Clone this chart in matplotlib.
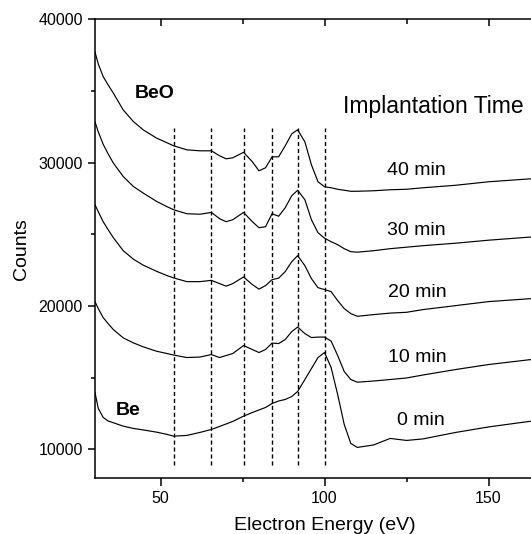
import numpy as np
import matplotlib
matplotlib.use("Agg")
import matplotlib.pyplot as plt
from matplotlib.ticker import MultipleLocator

plt.rcParams['font.family'] = ['Liberation Sans', 'DejaVu Sans']

# electron energy (eV), common grid
energy = [30, 31, 32.5, 34, 35.6, 38.6, 41.7, 44.7, 48.8, 52, 54, 58, 62, 65.5,
          68, 70, 72, 75.3, 78, 80, 82, 84, 86, 88, 90, 91.8, 94, 96, 98, 100,
          102, 104, 106, 108, 110, 115, 120, 125, 130, 140, 150, 163]

counts_40 = [37735, 36898, 36013, 35434, 34856, 33692, 32877, 32298, 31720, 31392,
             31183, 30904, 30834, 30834, 30486, 30277, 30346, 30730, 30068, 29440,
             29649, 30416, 30416, 31183, 32019, 32298, 31462, 29858, 28674, 28325,
             28255, 28151, 28081, 28011, 28011, 28046, 28116, 28151, 28255, 28430,
             28674, 28883]

counts_30 = [32856, 32159, 31287, 30625, 29977, 29043, 28346, 27886, 27301, 26931,
             26722, 26443, 26408, 26534, 26095, 25886, 26025, 26534, 25886, 25467,
             25537, 26443, 26269, 26861, 27698, 28081, 27419, 26025, 25119, 24736,
             24492, 24282, 24004, 23795, 23760, 23864, 24004, 24108, 24213, 24387,
             24596, 24819]

counts_20 = [27070, 26582, 25886, 25328, 24771, 23865, 23273, 22855, 22423, 22122,
             21962, 21704, 21704, 21794, 21564, 21390, 21564, 22031, 21494, 21181,
             21425, 21843, 21948, 22401, 23098, 23516, 22819, 21913, 21285, 21146,
             21007, 20379, 19822, 19473, 19285, 19403, 19508, 19564, 19752, 20031,
             20310, 20519]

counts_10 = [20310, 19822, 19194, 18776, 18358, 17780, 17431, 17152, 16845, 16685,
             16580, 16406, 16441, 16615, 16406, 16546, 16685, 17243, 16964, 16755,
             16964, 17417, 17382, 17661, 18219, 18532, 18079, 17800, 17835, 17835,
             17556, 16546, 15431, 14873, 14685, 14768, 14873, 14978, 15187, 15570,
             15918, 16267]

counts_0 = [13967, 12852, 12224, 11980, 11855, 11618, 11458, 11354, 11200, 11040,
            10921, 10970, 11179, 11388, 11597, 11771, 11946, 12315, 12573, 12747,
            12921, 13200, 13374, 13479, 13688, 14037, 14873, 15640, 16406, 16755,
            15709, 13827, 11736, 10412, 10133, 10308, 10761, 10621, 10726, 11179,
            11562, 11967]

series = [counts_40, counts_30, counts_20, counts_10, counts_0]
time_labels = ["40 min", "30 min", "20 min", "10 min", "0 min"]
label_pos = [(119.1, 29461), (119.1, 25279), (119.4, 20916), (119.4, 16385), (122.0, 12037)]

marker_lines = [54, 65.5, 75.3, 84, 91.8, 100]

fig = plt.figure(figsize=(5.31, 5.34), dpi=100)
ax = fig.add_axes([0.1789, 0.1049, 0.8646, 0.8586])

for c in series:
    ax.plot(energy, c, color='black', lw=0.85)

for xv in marker_lines:
    ax.plot([xv, xv], [8900, 32400], color='black', lw=1.0, ls=(0, (3, 2)))

for lab, (tx, ty) in zip(time_labels, label_pos):
    ax.text(tx, ty, lab, fontsize=14, ha='left', va='center')

ax.text(105.5, 33922, "Implantation Time", fontsize=16.5, ha='left', va='center')
ax.text(48.3, 34800, "BeO", fontsize=14, fontweight='bold', ha='center', va='center')
ax.text(40.2, 12700, "Be", fontsize=14, fontweight='bold', ha='center', va='center')

ax.set_xlim(30, 170)
ax.set_ylim(8000, 40000)
ax.xaxis.set_major_locator(MultipleLocator(50))
ax.xaxis.set_minor_locator(MultipleLocator(25))
ax.yaxis.set_major_locator(MultipleLocator(10000))
ax.yaxis.set_minor_locator(MultipleLocator(5000))
ax.tick_params(which='major', direction='out', length=5.4, width=1.1, labelsize=11.5)
ax.tick_params(which='minor', direction='out', length=3, width=1.1)
ax.tick_params(axis='x', pad=4)

for s in ax.spines.values():
    s.set_linewidth(1.1)
ax.spines['top'].set_visible(False)

top = ax.secondary_xaxis('top')
top.xaxis.set_major_locator(MultipleLocator(50))
top.xaxis.set_minor_locator(MultipleLocator(25))
top.tick_params(which='major', direction='in', length=4.7, width=1.1, labeltop=False)
top.tick_params(which='minor', direction='in', length=3.4, width=1.1)
top.spines['top'].set_linewidth(1.1)

ax.set_xlabel("Electron Energy (eV)", fontsize=14, labelpad=8)
ax.set_ylabel("Counts", fontsize=14, labelpad=5.8)

fig.savefig("out.png", dpi=100)
